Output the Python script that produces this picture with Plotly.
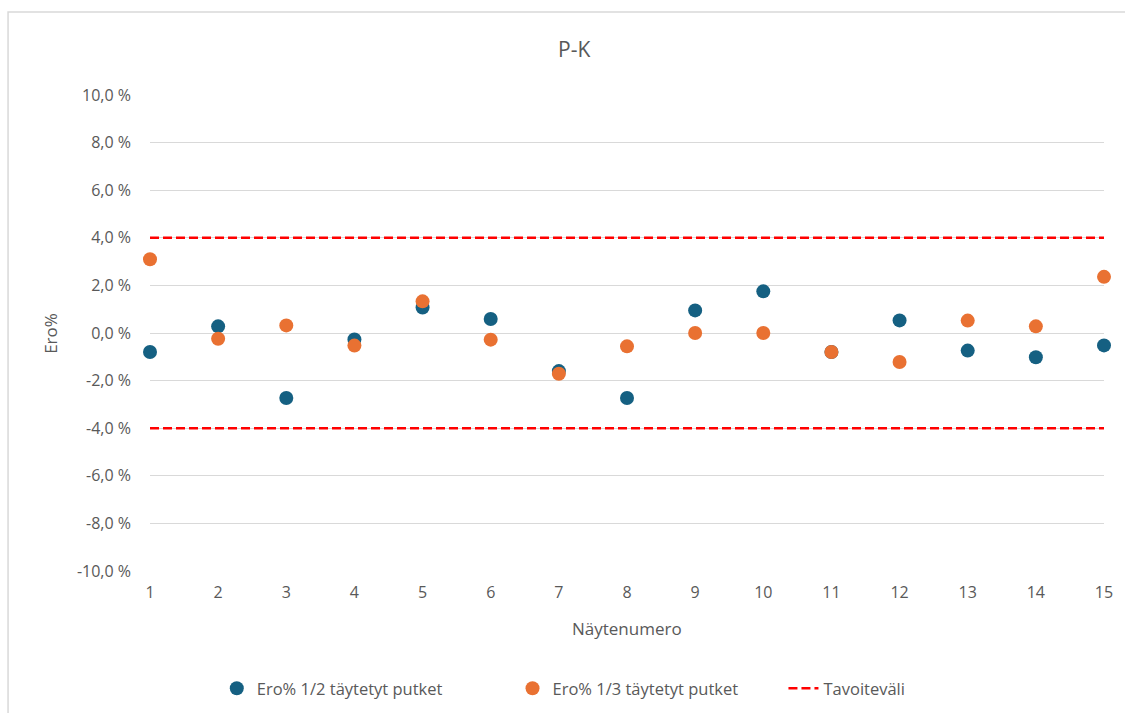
import plotly.graph_objects as go

# Sample numbers and measured differences (%)
samples = list(range(1, 16))
ero_half = [-0.80, 0.28, -2.73, -0.27, 1.07, 0.59, -1.60, -2.73, 0.95, 1.75,
            -0.80, 0.53, -0.74, -1.02, -0.52]
ero_third = [3.10, -0.24, 0.32, -0.53, 1.33, -0.28, -1.71, -0.56, 0.00, 0.00,
             -0.80, -1.22, 0.52, 0.28, 2.36]
target_limits = [4.0, -4.0]
y_ticks = [-10, -8, -6, -4, -2, 0, 2, 4, 6, 8, 10]
y_tick_text = [f"{v:.1f} %".replace(".", ",") for v in y_ticks]

TEXT = "#595959"
FONT = "Open Sans, sans-serif"

fig = go.Figure()

fig.add_trace(go.Scatter(
    x=samples, y=ero_half, mode="markers", name="Ero% 1/2 täytetyt putket",
    marker=dict(color="#156082", size=14), cliponaxis=False, legend="legend"))
fig.add_trace(go.Scatter(
    x=samples, y=ero_third, mode="markers", name="Ero% 1/3 täytetyt putket",
    marker=dict(color="#E97132", size=14), cliponaxis=False, legend="legend2"))

lim_x, lim_y = [], []
for v in target_limits:
    lim_x += [samples[0], samples[-1], None]
    lim_y += [v, v, None]
fig.add_trace(go.Scatter(
    x=lim_x, y=lim_y, mode="lines", name="Tavoiteväli",
    line=dict(color="#FF0000", width=2.5, dash="9px,4px"), cliponaxis=False,
    legend="legend3"))

leg_common = dict(orientation="h", y=-0.247, yanchor="middle", xanchor="left",
                  font=dict(size=16.5, color=TEXT), bgcolor="rgba(0,0,0,0)",
                  itemwidth=30)

fig.update_layout(
    width=1125, height=713,
    margin=dict(l=150, r=21, t=95, b=142, autoexpand=False),
    plot_bgcolor="white", paper_bgcolor="white",
    font=dict(family=FONT, color=TEXT, size=15),
    showlegend=True,
    legend=dict(x=0.070, **leg_common),
    legend2=dict(x=0.380, **leg_common),
    legend3=dict(x=0.664, **leg_common),
    shapes=[dict(type="rect", xref="paper", yref="paper",
                 x0=-0.1488, x1=1.06, y0=-0.35, y1=1.1745,
                 line=dict(color="#d9d9d9", width=1.5), layer="below")],
    annotations=[
        dict(text="P-K", xref="paper", yref="paper", x=0.444, y=1.097, xanchor="center",
             yanchor="middle", showarrow=False, font=dict(size=21, color=TEXT)),
        dict(text="Näytenumero", xref="paper", yref="paper", x=0.5, y=-0.12,
             xanchor="center", yanchor="middle", showarrow=False,
             font=dict(size=17, color=TEXT)),
        dict(text="Ero%", xref="paper", yref="paper", x=-0.105, y=0.5,
             xanchor="center", yanchor="middle", textangle=-90, showarrow=False,
             font=dict(size=17, color=TEXT)),
    ],
)

fig.update_xaxes(range=[1, 15], tickvals=samples, showgrid=False, zeroline=False,
                 showline=False, ticks="", ticklabelstandoff=10,
                 tickfont=dict(size=16, color=TEXT))
fig.update_yaxes(range=[-10, 10], tickvals=y_ticks, ticktext=y_tick_text,
                 showgrid=True, gridcolor="#d9d9d9", gridwidth=1.2, zeroline=False,
                 showline=False, ticks="", ticklabelstandoff=18,
                 tickfont=dict(size=16, color=TEXT))

fig.write_html("out.html")
